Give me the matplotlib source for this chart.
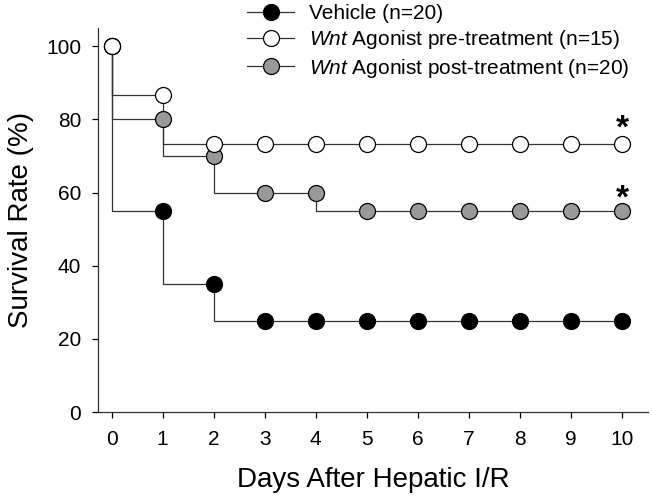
import numpy as np
import matplotlib
matplotlib.use("Agg")
import matplotlib.pyplot as plt

plt.rcParams["font.family"] = ["Liberation Sans", "DejaVu Sans"]
plt.rcParams["mathtext.fontset"] = "custom"
plt.rcParams["mathtext.rm"] = "Liberation Sans"
plt.rcParams["mathtext.it"] = "Liberation Sans:italic"

days = [0, 1, 2, 3, 4, 5, 6, 7, 8, 9, 10]
vehicle = [100, 55, 35, 25, 25, 25, 25, 25, 25, 25, 25]
pre_treatment = [100, 86.7, 73.3, 73.3, 73.3, 73.3, 73.3, 73.3, 73.3, 73.3, 73.3]
post_treatment = [100, 80, 70, 60, 60, 55, 55, 55, 55, 55, 55]

labels = [
    "Vehicle (n=20)",
    r"$\mathit{Wnt}$ Agonist pre-treatment (n=15)",
    r"$\mathit{Wnt}$ Agonist post-treatment (n=20)",
]
star_days = [10, 10]
star_heights = [77.5, 58.3]

fig = plt.figure(figsize=(6.52, 5.01), dpi=100)
ax = fig.add_axes([0.150, 0.1776, 0.844, 0.7664])

series = [
    (vehicle, "black", 1),
    (post_treatment, "#999999", 2),
    (pre_treatment, "white", 3),
]
for values, face, z in series:
    ax.plot(days, values, drawstyle="steps-pre", color="#333333", lw=0.9, zorder=z)
    ax.plot(days, values, linestyle="none", marker="o", markersize=11.5,
            markerfacecolor=face, markeredgecolor="black",
            markeredgewidth=0.9, zorder=z + 3)

# legend handles with line through marker
leg_handles = []
for face in ["black", "white", "#999999"]:
    lh, = ax.plot([], [], color="#333333", lw=0.9, marker="o", markersize=11.5,
                  markerfacecolor=face, markeredgecolor="black",
                  markeredgewidth=0.9)
    leg_handles.append(lh)

fig.legend(leg_handles, labels, loc="upper left",
           bbox_to_anchor=(243 / 652, 1.0), frameon=False,
           fontsize=15, handlelength=2.25, handletextpad=0.72,
           labelspacing=0.25, borderpad=0.1, borderaxespad=0.1)

for d, h in zip(star_days, star_heights):
    ax.text(d, h, "*", ha="center", va="center", fontsize=24,
            fontweight="bold")

ax.set_xlim(-0.27, 10.51)
ax.set_ylim(0, 105)
ax.set_xticks(days)
ax.set_yticks([0, 20, 40, 60, 80, 100])
ax.tick_params(direction="out", length=4, width=0.9, labelsize=15, pad=8)
ax.tick_params(axis="x", pad=9)
for side in ["top", "right"]:
    ax.spines[side].set_visible(False)
for side in ["left", "bottom"]:
    ax.spines[side].set_linewidth(0.9)
    ax.spines[side].set_color("#333333")

ax.set_xlabel("Days After Hepatic I/R", fontsize=20, labelpad=13)
ax.set_ylabel("Survival Rate (%)", fontsize=20, labelpad=9)

fig.savefig("out.png", dpi=100)
